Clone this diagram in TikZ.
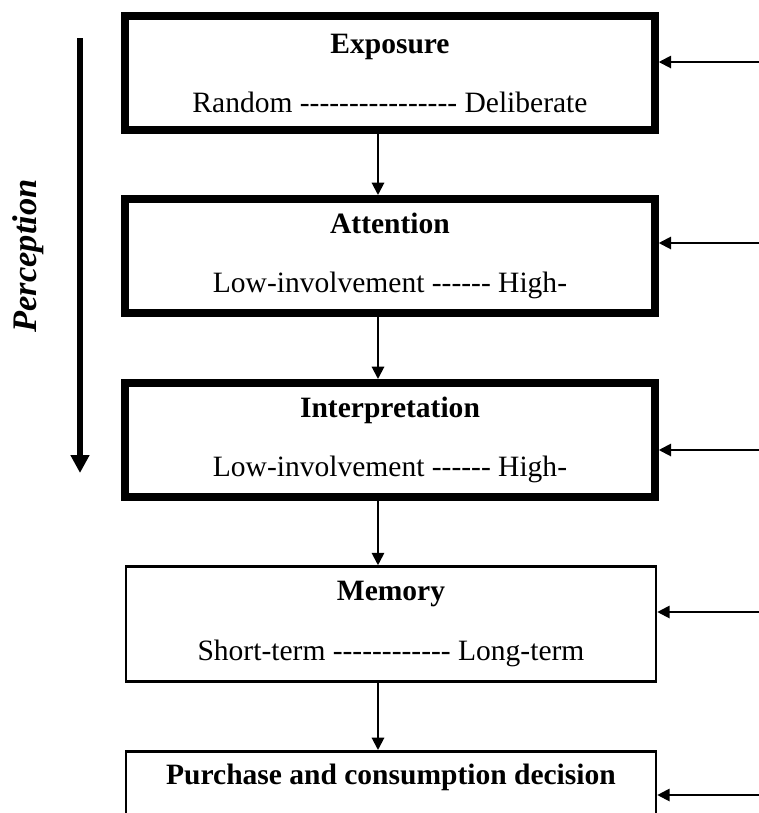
\documentclass[tikz,border=0pt]{standalone}
\usepackage{fontspec}
\setmainfont{Liberation Serif}[Ligatures=TeXOff]
\usetikzlibrary{arrows.meta,positioning}

\tikzset{
  thickbox/.style={draw, line width=3.1pt, minimum width=215.4pt, minimum height=46.5pt, align=center, inner sep=0pt},
  thinbox/.style={draw, line width=1.1pt, minimum width=215.4pt, minimum height=46.7pt, align=center, inner sep=0pt},
  flow/.style={line width=0.8pt, -{Triangle[length=5pt,width=5pt]}},
}

\begin{document}
\begin{tikzpicture}[x=0.4065pt, y=-0.4065pt, font=\fontsize{12}{14}\selectfont]
    \clip (0,0) rectangle (759,813);

    % Perception stages
    \node[thickbox] (expo) at (390,73) {\textbf{Exposure}\\[10pt]Random ---------------- Deliberate};
    \node[thickbox] (att) at (390,256) {\textbf{Attention}\\[10pt]Low-involvement ------ High-};
    \node[thickbox] (interp) at (390,440) {\textbf{Interpretation}\\[10pt]Low-involvement ------ High-};

    % later stages
    \node[thinbox] (mem) at (391,624) {\textbf{Memory}\\[10pt]Short-term ------------ Long-term};
    \node[thinbox, anchor=north] (purch) at (391,750) {\textbf{Purchase and consumption decision}\\[10pt]\strut};

    % down the chain
    \coordinate (col) at (378,0);
    \draw[flow] (expo.south -| col) -- (att.north -| col);
    \draw[flow] (att.south -| col) -- (interp.north -| col);
    \draw[flow] (interp.south -| col) -- (mem.north -| col);
    \draw[flow] (mem.south -| col) -- (purch.north -| col);

    % inputs from the right
    \coordinate (inE) at (759,62);
    \coordinate (inA) at (759,243);
    \coordinate (inI) at (759,450);
    \coordinate (inM) at (759,612);
    \coordinate (inP) at (759,795);
    \draw[flow] (inE) -- (inE -| expo.east);
    \draw[flow] (inA) -- (inA -| att.east);
    \draw[flow] (inI) -- (inI -| interp.east);
    \draw[flow] (inM) -- (inM -| mem.east);
    \draw[flow] (inP) -- (inP -| purch.east);

    % Perception arrow
    \coordinate (ptop) at (80,38);
    \coordinate (pbot) at (80,473);
    \draw[line width=2.4pt, -{Triangle[length=7.3pt,width=7.3pt]}] (ptop) -- (pbot);
    \node[rotate=90, font=\fontsize{14}{17}\selectfont\bfseries\itshape] (perc) at (28,256) {Perception};
\end{tikzpicture}
\end{document}
